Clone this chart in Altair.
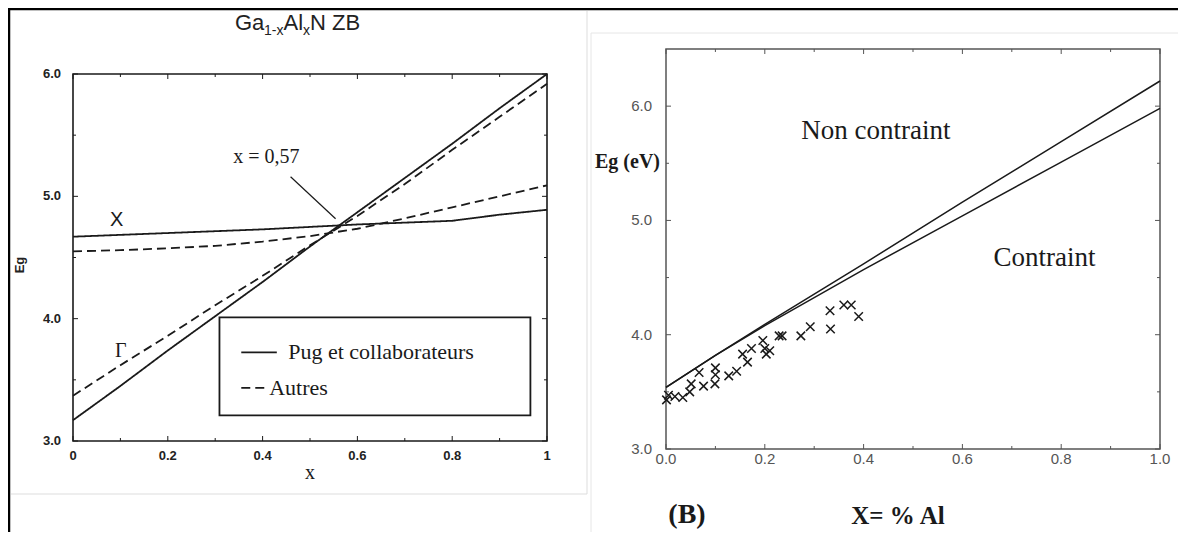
import altair as alt
import pandas as pd

# ---------------- Panel A : Ga(1-x)Al(x)N ZB, gaps vs x ----------------
xa = [0.0, 0.1, 0.2, 0.3, 0.4, 0.5, 0.6, 0.7, 0.8, 0.9, 1.0]
gamma_pug = [3.17, 3.45, 3.74, 4.02, 4.30, 4.59, 4.87, 5.15, 5.43, 5.72, 6.00]
gamma_autres = [3.37, 3.62, 3.86, 4.11, 4.35, 4.60, 4.84, 5.10, 5.38, 5.65, 5.92]
xband_pug = [4.67, 4.685, 4.70, 4.715, 4.73, 4.75, 4.77, 4.785, 4.80, 4.85, 4.89]
xband_autres = [4.55, 4.56, 4.575, 4.595, 4.63, 4.675, 4.735, 4.82, 4.91, 5.00, 5.09]
sources = ["Pug et collaborateurs", "Autres"]

xA_major = [0, 0.2, 0.4, 0.6, 0.8, 1]
xA_labels = ["0", "0.2", "0.4", "0.6", "0.8", "1"]
xA_minor = [0.1, 0.3, 0.5, 0.7, 0.9]
yA_major = [3, 4, 5, 6]
yA_labels = ["3.0", "4.0", "5.0", "6.0"]
yA_minor = [3.5, 4.5, 5.5]

# ---------------- Panel B : Eg vs X = % Al ----------------
xb = [0.0, 0.1, 0.2, 0.4, 0.6, 0.8, 1.0]
eg_non_contraint = [3.54, 3.82, 4.09, 4.62, 5.16, 5.69, 6.22]
eg_contraint = [3.54, 3.82, 4.08, 4.57, 5.04, 5.51, 5.98]
meas_x = [0.001, 0.005, 0.018, 0.034, 0.048, 0.051, 0.067, 0.076, 0.099, 0.10,
          0.10, 0.127, 0.143, 0.155, 0.165, 0.173, 0.196, 0.20, 0.21, 0.203,
          0.229, 0.235, 0.273, 0.292, 0.332, 0.333, 0.36, 0.375, 0.39]
meas_eg = [3.43, 3.47, 3.46, 3.45, 3.50, 3.57, 3.67, 3.55, 3.57, 3.65,
           3.71, 3.64, 3.68, 3.83, 3.76, 3.88, 3.95, 3.88, 3.86, 3.83,
           3.99, 3.99, 3.99, 4.07, 4.21, 4.05, 4.26, 4.26, 4.16]

xB_major = [0.0, 0.2, 0.4, 0.6, 0.8, 1.0]
xB_labels = ["0.0", "0.2", "0.4", "0.6", "0.8", "1.0"]
xB_minor = [0.1, 0.3, 0.5, 0.7, 0.9]
yB_major = [3, 4, 5, 6]
yB_labels = ["3.0", "4.0", "5.0", "6.0"]
yB_minor = [3.5, 4.5, 5.5]

# ---------------- layout ----------------
INK = "#1a1a1a"
GRAY = "#555555"
SERIF = "Liberation Serif"
SANS = "Liberation Sans"
W, H = 1170, 524
one = pd.DataFrame({"k": [0]})

# pixel edges of each plot box in the canvas: left, right, bottom, top
PA = (65, 539, 433, 66)
PB = (658, 1152, 441, 41)

sxA = alt.Scale(domain=[0, 1], range=[PA[0], PA[1]], nice=False, zero=False)
syA = alt.Scale(domain=[3, 6], range=[PA[2], PA[3]], nice=False, zero=False)
sxB = alt.Scale(domain=[0, 1], range=[PB[0], PB[1]], nice=False, zero=False)
syB = alt.Scale(domain=[3, 6.5], range=[PB[2], PB[3]], nice=False, zero=False)


def dtext(txt, x, y, sx, sy, **kw):
    return alt.Chart(one).mark_text(text=txt, **kw).encode(
        x=alt.XDatum(x, scale=sx, axis=None), y=alt.YDatum(y, scale=sy, axis=None))


def ptext(txt, x, y, **kw):
    return alt.Chart(one).mark_text(text=txt, **kw).encode(x=alt.value(x), y=alt.value(y))


def prule(x, y, x2=None, y2=None, **kw):
    enc = dict(x=alt.value(x), y=alt.value(y))
    if x2 is not None:
        enc["x2"] = alt.value(x2)
    if y2 is not None:
        enc["y2"] = alt.value(y2)
    return alt.Chart(one).mark_rule(**kw).encode(**enc)


def drule(x, x2, y, y2, sx, sy, **kw):
    return alt.Chart(one).mark_rule(**kw).encode(
        x=alt.XDatum(x, scale=sx, axis=None), x2=alt.X2Datum(x2),
        y=alt.YDatum(y, scale=sy, axis=None), y2=alt.Y2Datum(y2))


def frame(sx, sy, xd, yd, color, width):
    return alt.Chart(one).mark_rect(fillOpacity=0, stroke=color, strokeWidth=width).encode(
        x=alt.XDatum(xd[0], scale=sx, axis=None), x2=alt.X2Datum(xd[1]),
        y=alt.YDatum(yd[0], scale=sy, axis=None), y2=alt.Y2Datum(yd[1]))


def inner_ticks(sx, sy, xd, yd, px, xmaj, xmin, ymaj, ymin, color):
    left, right, bottom, top = px
    layers = []
    for vals, L in ((xmaj, 5), (xmin, 3)):
        d = pd.DataFrame({"t": vals})
        for yv, ypix in ((yd[0], bottom - L), (yd[1], top + L)):
            layers.append(alt.Chart(d).mark_rule(color=color, strokeWidth=1).encode(
                x=alt.X("t:Q", scale=sx, axis=None),
                y=alt.YDatum(yv, scale=sy, axis=None), y2=alt.value(ypix)))
    for vals, L in ((ymaj, 5), (ymin, 3)):
        d = pd.DataFrame({"t": vals})
        for xv, xpix in ((xd[0], left + L), (xd[1], right - L)):
            layers.append(alt.Chart(d).mark_rule(color=color, strokeWidth=1).encode(
                y=alt.Y("t:Q", scale=sy, axis=None),
                x=alt.XDatum(xv, scale=sx, axis=None), x2=alt.value(xpix)))
    return layers


def x_tick_labels(vals, labels, sx, ypix, **kw):
    d = pd.DataFrame({"v": vals, "lab": labels})
    return alt.Chart(d).mark_text(baseline="top", align="center", **kw).encode(
        x=alt.X("v:Q", scale=sx, axis=None), y=alt.value(ypix), text="lab:N")


def y_tick_labels(vals, labels, sy, xpix, **kw):
    d = pd.DataFrame({"v": vals, "lab": labels})
    return alt.Chart(d).mark_text(baseline="middle", align="right", **kw).encode(
        y=alt.Y("v:Q", scale=sy, axis=None), x=alt.value(xpix), text="lab:N")


# ---------------- Panel A chart ----------------
n = len(xa)
dfA = pd.DataFrame({
    "x": xa * 4,
    "Eg": gamma_pug + gamma_autres + xband_pug + xband_autres,
    "source": [sources[0]] * n + [sources[1]] * n + [sources[0]] * n + [sources[1]] * n,
    "curve": ["G-pug"] * n + ["G-aut"] * n + ["X-pug"] * n + ["X-aut"] * n,
})

linesA = alt.Chart(dfA).mark_line(color=INK, strokeWidth=1.8).encode(
    x=alt.X("x:Q", scale=sxA, axis=None),
    y=alt.Y("Eg:Q", scale=syA, axis=None),
    detail="curve:N",
    strokeDash=alt.StrokeDash("source:N", legend=None,
                              scale=alt.Scale(domain=sources, range=[[1, 0], [9, 5]])),
)

legend_box = alt.Chart(one).mark_rect(fill="white", stroke=INK, strokeWidth=1.8).encode(
    x=alt.XDatum(0.309, scale=sxA, axis=None), x2=alt.X2Datum(0.965),
    y=alt.YDatum(3.21, scale=syA, axis=None), y2=alt.Y2Datum(4.01))

# title pieces (subscripts)
title_layers = [
    ptext("Ga", 227, 22, font=SANS, fontSize=22, align="left", baseline="alphabetic", color="#222"),
    ptext("1-x", 256, 27, font=SANS, fontSize=14, align="left", baseline="alphabetic", color="#222"),
    ptext("Al", 275.5, 22, font=SANS, fontSize=22, align="left", baseline="alphabetic", color="#222"),
    ptext("x", 295, 27, font=SANS, fontSize=14, align="left", baseline="alphabetic", color="#222"),
    ptext("N ZB", 302, 22, font=SANS, fontSize=22, align="left", baseline="alphabetic", color="#222"),
]

decor = [
    prule(0, 1, x2=W, color="black", strokeWidth=2.5),
    prule(1, 0, y2=H, color="black", strokeWidth=2.5),
    prule(579, 3, y2=486, color="#dddddd", strokeWidth=1),
    prule(3, 486, x2=579, color="#dddddd", strokeWidth=1),
    prule(583, 25, y2=H, color="#e6e6e6", strokeWidth=1),
    prule(583, 25, x2=W, color="#e6e6e6", strokeWidth=1),
]

panelA = alt.layer(
    *decor,
    frame(sxA, syA, (0, 1), (3, 6), INK, 1.6),
    *inner_ticks(sxA, syA, (0, 1), (3, 6), PA, xA_major, xA_minor, yA_major, yA_minor, INK),
    x_tick_labels(xA_major, xA_labels, sxA, PA[2] + 9, font=SANS, fontSize=13,
                  fontWeight="bold", color="#222"),
    y_tick_labels(yA_major, yA_labels, syA, PA[0] - 12, font=SANS, fontSize=13,
                  fontWeight="bold", color="#222"),
    linesA,
    drule(0.459, 0.554, 5.16, 4.817, sxA, syA, color=INK, strokeWidth=1.2),
    dtext("x = 0,57", 0.408, 5.32, sxA, syA, font=SERIF, fontSize=20, color=INK),
    dtext("X", 0.092, 4.805, sxA, syA, font=SANS, fontSize=20, color=INK),
    dtext("Γ", 0.101, 3.735, sxA, syA, font=SERIF, fontSize=20, color=INK),
    legend_box,
    drule(0.355, 0.43, 3.725, 3.725, sxA, syA, color=INK, strokeWidth=1.8),
    drule(0.355, 0.41, 3.434, 3.434, sxA, syA, color=INK, strokeWidth=1.8, strokeDash=[9, 5]),
    dtext("Pug et collaborateurs", 0.454, 3.725, sxA, syA, font=SERIF, fontSize=22,
          align="left", color=INK),
    dtext("Autres", 0.414, 3.434, sxA, syA, font=SERIF, fontSize=22, align="left", color=INK),
    *title_layers,
    ptext("Eg", 12, 257, font=SANS, fontSize=13, fontWeight="bold", angle=270, color="#222"),
    ptext("x", 302, 465, font=SERIF, fontSize=20, color=INK),
)

# ---------------- Panel B chart ----------------
m = len(xb)
dfB = pd.DataFrame({
    "x": xb * 2,
    "Eg": eg_non_contraint + eg_contraint,
    "etat": ["Non contraint"] * m + ["Contraint"] * m,
})
dfM = pd.DataFrame({"x": meas_x, "Eg": meas_eg})

linesB = alt.Chart(dfB).mark_line(color=INK, strokeWidth=1.5).encode(
    x=alt.X("x:Q", scale=sxB, axis=None),
    y=alt.Y("Eg:Q", scale=syB, axis=None),
    detail="etat:N",
)

CROSS = "M-1,-1L1,1M-1,1L1,-1"
points = alt.Chart(dfM).mark_point(shape=CROSS, filled=False, stroke=INK, strokeWidth=1.5,
                                   size=72, opacity=1).encode(
    x=alt.X("x:Q", scale=sxB, axis=None),
    y=alt.Y("Eg:Q", scale=syB, axis=None),
)

panelB = alt.layer(
    frame(sxB, syB, (0, 1), (3, 6.5), GRAY, 1.5),
    *inner_ticks(sxB, syB, (0, 1), (3, 6.5), PB, xB_major, xB_minor, yB_major, yB_minor, GRAY),
    x_tick_labels(xB_major, xB_labels, sxB, PB[2] + 3, font=SANS, fontSize=15, color=GRAY),
    y_tick_labels(yB_major, yB_labels, syB, PB[0] - 14, font=SANS, fontSize=15, color=GRAY),
    linesB,
    points,
    dtext("Non contraint", 0.425, 5.78, sxB, syB, font=SERIF, fontSize=27, color=INK),
    dtext("Contraint", 0.766, 4.67, sxB, syB, font=SERIF, fontSize=27, color=INK),
    ptext("Eg (eV)", 652, 154, font=SERIF, fontSize=20, fontWeight="bold", align="right",
          color=INK),
    ptext("(B)", 679, 515, font=SERIF, fontSize=28, fontWeight="bold", baseline="alphabetic",
          color=INK),
    ptext("X= % Al", 890, 516, font=SERIF, fontSize=25, fontWeight="bold", baseline="alphabetic",
          color=INK),
)

chart = alt.layer(panelA, panelB).resolve_scale(
    x="independent", y="independent"
).properties(
    width=W, height=H, autosize=alt.AutoSizeParams(type="none"), padding=0, background="white"
).configure_view(strokeWidth=0)

chart.save("out.html", embed_options={"renderer": "svg", "actions": False})
